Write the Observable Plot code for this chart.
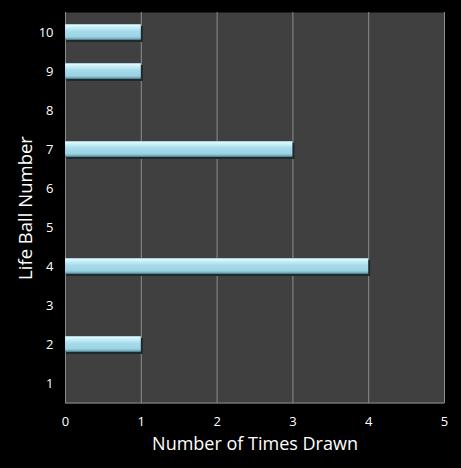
<!DOCTYPE html>
<html><head><meta charset="utf-8">
<script src="https://cdn.jsdelivr.net/npm/d3@7"></script>
<script src="https://cdn.jsdelivr.net/npm/@observablehq/plot@0.6"></script>
<style>
html,body{margin:0;padding:0;background:#000;}
</style>
</head><body>
<div id="chart"></div>
<script>
const balls = ["1","2","3","4","5","6","7","8","9","10"];
const timesDrawn = [0,1,0,4,0,0,3,0,1,1];
const xTicks = [0,1,2,3,4,5];
const xTitle = "Number of Times Drawn";
const yTitle = "Life Ball Number";

const data = balls.map((b,i)=>({ball:b, n:timesDrawn[i]}));

const defs = () => {
  const g = d3.create("svg:defs");
  const lg = g.append("linearGradient").attr("id","barGrad").attr("x1",0).attr("y1",0).attr("x2",0).attr("y2",1);
  [[0,"#86bccb"],[0.08,"#e2f8fd"],[0.25,"#c3ebf5"],[0.45,"#a6dbea"],[0.8,"#9ad3e3"],[0.92,"#74abba"],[1,"#456c76"]]
    .forEach(([o,c])=>lg.append("stop").attr("offset",o).attr("stop-color",c));
  return g.node();
};

const plot = Plot.plot({
  width: 461,
  height: 468,
  marginLeft: 65,
  marginRight: 17,
  marginTop: 12,
  marginBottom: 65,
  style: {background:"#000", color:"#fff", fontFamily:"'Open Sans', sans-serif"},
  x: {domain:[0,5]},
  y: {domain: balls.slice().reverse(), paddingInner:0.6, paddingOuter:0.3},
  marks: [
    defs,
    Plot.frame({fill:"#404040", stroke:null}),
    Plot.ruleX(xTicks.slice(1), {stroke:"#8c8c8c", strokeWidth:1}),
    Plot.ruleX([0], {stroke:"#8c8c8c"}),
    Plot.barX(data.filter(d=>d.n>0), {y:"ball", x:"n", fill:"#1e2a2d", dy:2, dx:1, insetRight:-1}),
    Plot.barX(data.filter(d=>d.n>0), {y:"ball", x:"n", fill:"url(#barGrad)"}),
    Plot.axisX({ticks:xTicks, tickSize:0, tickPadding:13, fontSize:13, fill:"#fff", tickFormat:d=>String(d), label:null}),
    Plot.axisY({tickSize:0, tickPadding:12, fontSize:13, fill:"#fff", label:null}),
    Plot.text([xTitle], {text:d=>d, frameAnchor:"bottom", dy:41, lineAnchor:"middle", textAnchor:"middle", fontSize:18, fill:"#fff"}),
    Plot.text([yTitle], {text:d=>d, frameAnchor:"left", dx:-39, lineAnchor:"middle", textAnchor:"middle", rotate:-90, fontSize:18.5, fill:"#fff"})
  ]
});

d3.select(plot).append("line")
  .attr("x1",65).attr("x2",461-17).attr("y1",468-65).attr("y2",468-65)
  .attr("stroke","#8c8c8c");
document.getElementById("chart").appendChild(plot);
</script>
</body></html>
